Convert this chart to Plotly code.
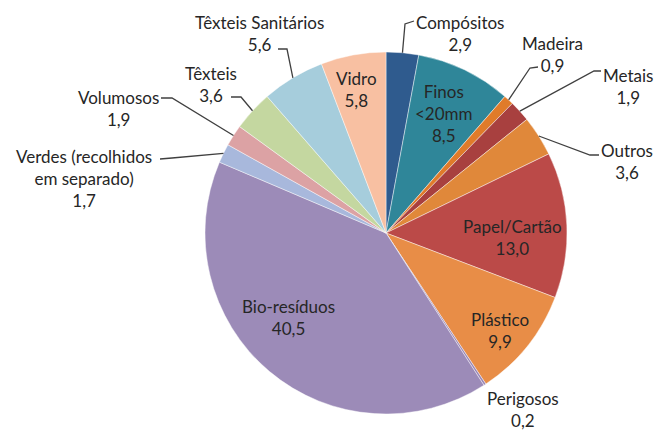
import math
import plotly.graph_objects as go

# page has an 8px body margin, so the figure is drawn 8px smaller and all pixel
# positions below (measured on the 667x433 reference) are shifted by OFF
OFF = 8
W, H = 667 - OFF, 433 - OFF

# data (percent), clockwise from 12 o'clock
categories = ["Compósitos", "Finos <20mm", "Madeira", "Metais", "Outros", "Papel/Cartão",
              "Plástico", "Perigosos", "Bio-resíduos", "Verdes (recolhidos em separado)",
              "Volumosos", "Têxteis", "Têxteis Sanitários", "Vidro"]
values = [2.9, 8.5, 0.9, 1.9, 3.6, 13.0, 9.9, 0.2, 40.5, 1.7, 1.9, 3.6, 5.6, 5.8]
display_names = ["Compósitos", "Finos<br>&lt;20mm", "Madeira", "Metais", "Outros", "Papel/Cartão",
                 "Plástico", "Perigosos", "Bio-resíduos", "Verdes (recolhidos<br>em separado)",
                 "Volumosos", "Têxteis", "Têxteis Sanitários", "Vidro"]

colors = ["#2F5B8E", "#2F8699", "#E07B2A", "#A8403F", "#E0883A", "#BB4A48",
          "#E88D47", "#9A86B6", "#9C8BB8", "#A8B8DC", "#DCA2A4", "#C4D7A0",
          "#A6CDDC", "#F8C0A2"]

# pie geometry in reference pixels
CX, CY, R = 386, 233, 181

# label centres in reference pixels (layout only)
label_pos = {
    "Compósitos": (460, 33), "Finos <20mm": (444, 113), "Madeira": (552, 54),
    "Metais": (628, 86), "Outros": (627, 161), "Papel/Cartão": (512, 237),
    "Plástico": (500, 330), "Perigosos": (523, 409), "Bio-resíduos": (288, 317),
    "Verdes (recolhidos em separado)": (84, 178), "Volumosos": (118, 108),
    "Têxteis": (211, 85), "Têxteis Sanitários": (259, 34), "Vidro": (356, 90),
}
# leader lines: knee point and end point in reference pixels
leaders = {
    "Compósitos": ((405, 24), (414, 21)),
    "Madeira": ((530, 68), (538, 67)),
    "Metais": ((594, 71), (601, 71)),
    "Outros": ((590, 155), (599, 155)),
    "Verdes (recolhidos em separado)": ((172, 158), (160, 159)),
    "Volumosos": ((172, 98), (161, 98)),
    "Têxteis": ((241, 97), (231, 97)),
    "Têxteis Sanitários": ((287, 49), (278, 49)),
}


def paper(x, y):
    return (x - OFF) / W, 1 - (y - OFF) / H


d_x0, d_y1 = paper(CX - R, CY - R)
d_x1, d_y0 = paper(CX + R, CY + R)

fig = go.Figure(go.Pie(
    labels=categories,
    values=values,
    sort=False,
    direction="clockwise",
    rotation=0,
    textinfo="none",
    hoverinfo="label+value",
    marker=dict(colors=colors, line=dict(color="rgba(255,255,255,0.55)", width=0.8)),
    domain=dict(x=[d_x0, d_x1], y=[d_y0, d_y1]),
    showlegend=False,
))

annotations = []
shapes = []
total = sum(values)
cum = 0.0
for name, disp, v in zip(categories, display_names, values):
    mid = (cum + v / 2) / total * 2 * math.pi
    cum += v
    txt = f"{disp}<br>{v:.1f}".replace(".", ",")
    lx, ly = paper(*label_pos[name])
    annotations.append(dict(x=lx, y=ly, xref="paper", yref="paper", text=txt,
                            showarrow=False, align="center",
                            xanchor="center", yanchor="middle",
                            font=dict(size=17, color="#262626",
                                      family="Lato, 'Open Sans', sans-serif")))
    if name in leaders:
        ex, ey = CX + R * math.sin(mid), CY - R * math.cos(mid)
        (kx, ky), (tx, ty) = leaders[name]
        p0, p1, p2 = paper(ex, ey), paper(kx, ky), paper(tx, ty)
        shapes.append(dict(type="path", xref="paper", yref="paper",
                           path=f"M {p0[0]},{p0[1]} L {p1[0]},{p1[1]} L {p2[0]},{p2[1]}",
                           line=dict(color="#404040", width=1.3)))

fig.update_layout(
    width=W, height=H,
    margin=dict(l=0, r=0, t=0, b=0),
    paper_bgcolor="white",
    plot_bgcolor="white",
    annotations=annotations,
    shapes=shapes,
)

fig.write_html("out.html")
